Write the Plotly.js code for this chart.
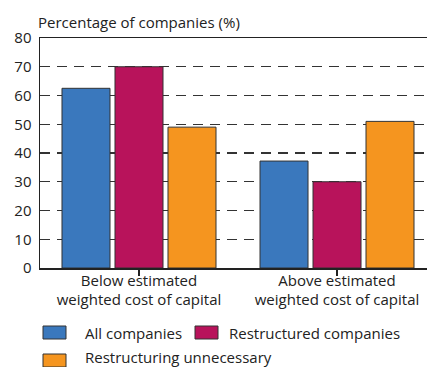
<!DOCTYPE html>
<html><head><meta charset="utf-8">
<script src="https://cdn.plot.ly/plotly-3.0.1.min.js"></script>
<style>html,body{margin:0;padding:0;background:#fff}#c{width:427px;height:367px}</style>
</head><body><div id="c"></div>
<script>
const categories = ["Below estimated<br>weighted cost of capital", "Above estimated<br>weighted cost of capital"];
const seriesNames = ["All companies", "Restructured companies", "Restructuring unnecessary"];
const allCompanies = [62.5, 37.2];
const restructured = [70, 30];
const unnecessary = [49, 51];
const yTicks = [0, 10, 20, 30, 40, 50, 60, 70, 80];
const colors = ["#3a78bd", "#b8135b", "#f5951f"];
const values = [allCompanies, restructured, unnecessary];

const font = {family: "Open Sans, sans-serif", size: 15, color: "#222"};
const traces = values.map((v, i) => ({
  type: "bar", x: [0, 1], y: v, name: seriesNames[i],
  marker: {color: colors[i], line: {color: "#333", width: 1}},
  hoverinfo: "skip"
}));

// plot area in pixels
const L = 40, R = 427, T = 38, B = 268;
const px = x => (x - L) / (R - L);
const py = y => (B - y) / (B - T);

// legend positions (layout only)
const legendPos = [
  {sx: 43, sy: 326, ty: 333, tx: 83},
  {sx: 195, sy: 326, ty: 333, tx: 227},
  {sx: 43, sy: 354, ty: 357, tx: 83}
];
const shapes = [];
const annotations = [];
legendPos.forEach((p, i) => {
  shapes.push({type: "rect", xref: "paper", yref: "paper",
    x0: px(p.sx), x1: px(p.sx + 23), y0: py(p.sy), y1: py(p.sy + 13),
    fillcolor: colors[i], line: {color: "#333", width: 1}});
  annotations.push({xref: "paper", yref: "paper", x: px(p.tx), y: py(p.ty),
    xanchor: "left", yanchor: "middle", text: seriesNames[i], showarrow: false, font: font});
});

const layout = {
  width: 427, height: 367,
  margin: {l: L, r: 427 - R, t: T, b: 367 - B},
  paper_bgcolor: "#fff", plot_bgcolor: "#fff",
  font: font,
  barmode: "group", bargap: 0.197, bargroupgap: 0.094,
  showlegend: false,
  shapes: shapes, annotations: annotations,
  title: {text: "Percentage of companies (%)", font: font, x: 38/427, xref: "container", xanchor: "left",
          y: 1 - 23/367, yref: "container", yanchor: "middle"},
  xaxis: {
    range: [-0.5, 1.4545], tickvals: [0, 1], ticktext: categories,
    showline: true, linecolor: "#222", linewidth: 1.5, mirror: true,
    ticks: "outside", tickson: "boundaries", ticklen: 6, tickcolor: "#222", tickwidth: 1.5,
    showgrid: false, zeroline: false, fixedrange: true, tickfont: font, automargin: false,
    ticklabelstandoff: -8
  },
  yaxis: {
    range: [0, 80], tickvals: yTicks, ticktext: yTicks.map(String),
    showline: true, linecolor: "#222", linewidth: 1.5,
    showgrid: true, gridcolor: "#333", gridwidth: 1.4, griddash: "10px,7px",
    ticks: "", zeroline: false, fixedrange: true, tickfont: font, ticklabelstandoff: 4, automargin: false
  }
};
Plotly.newPlot("c", traces, layout, {staticPlot: true, displayModeBar: false});
</script></body></html>
